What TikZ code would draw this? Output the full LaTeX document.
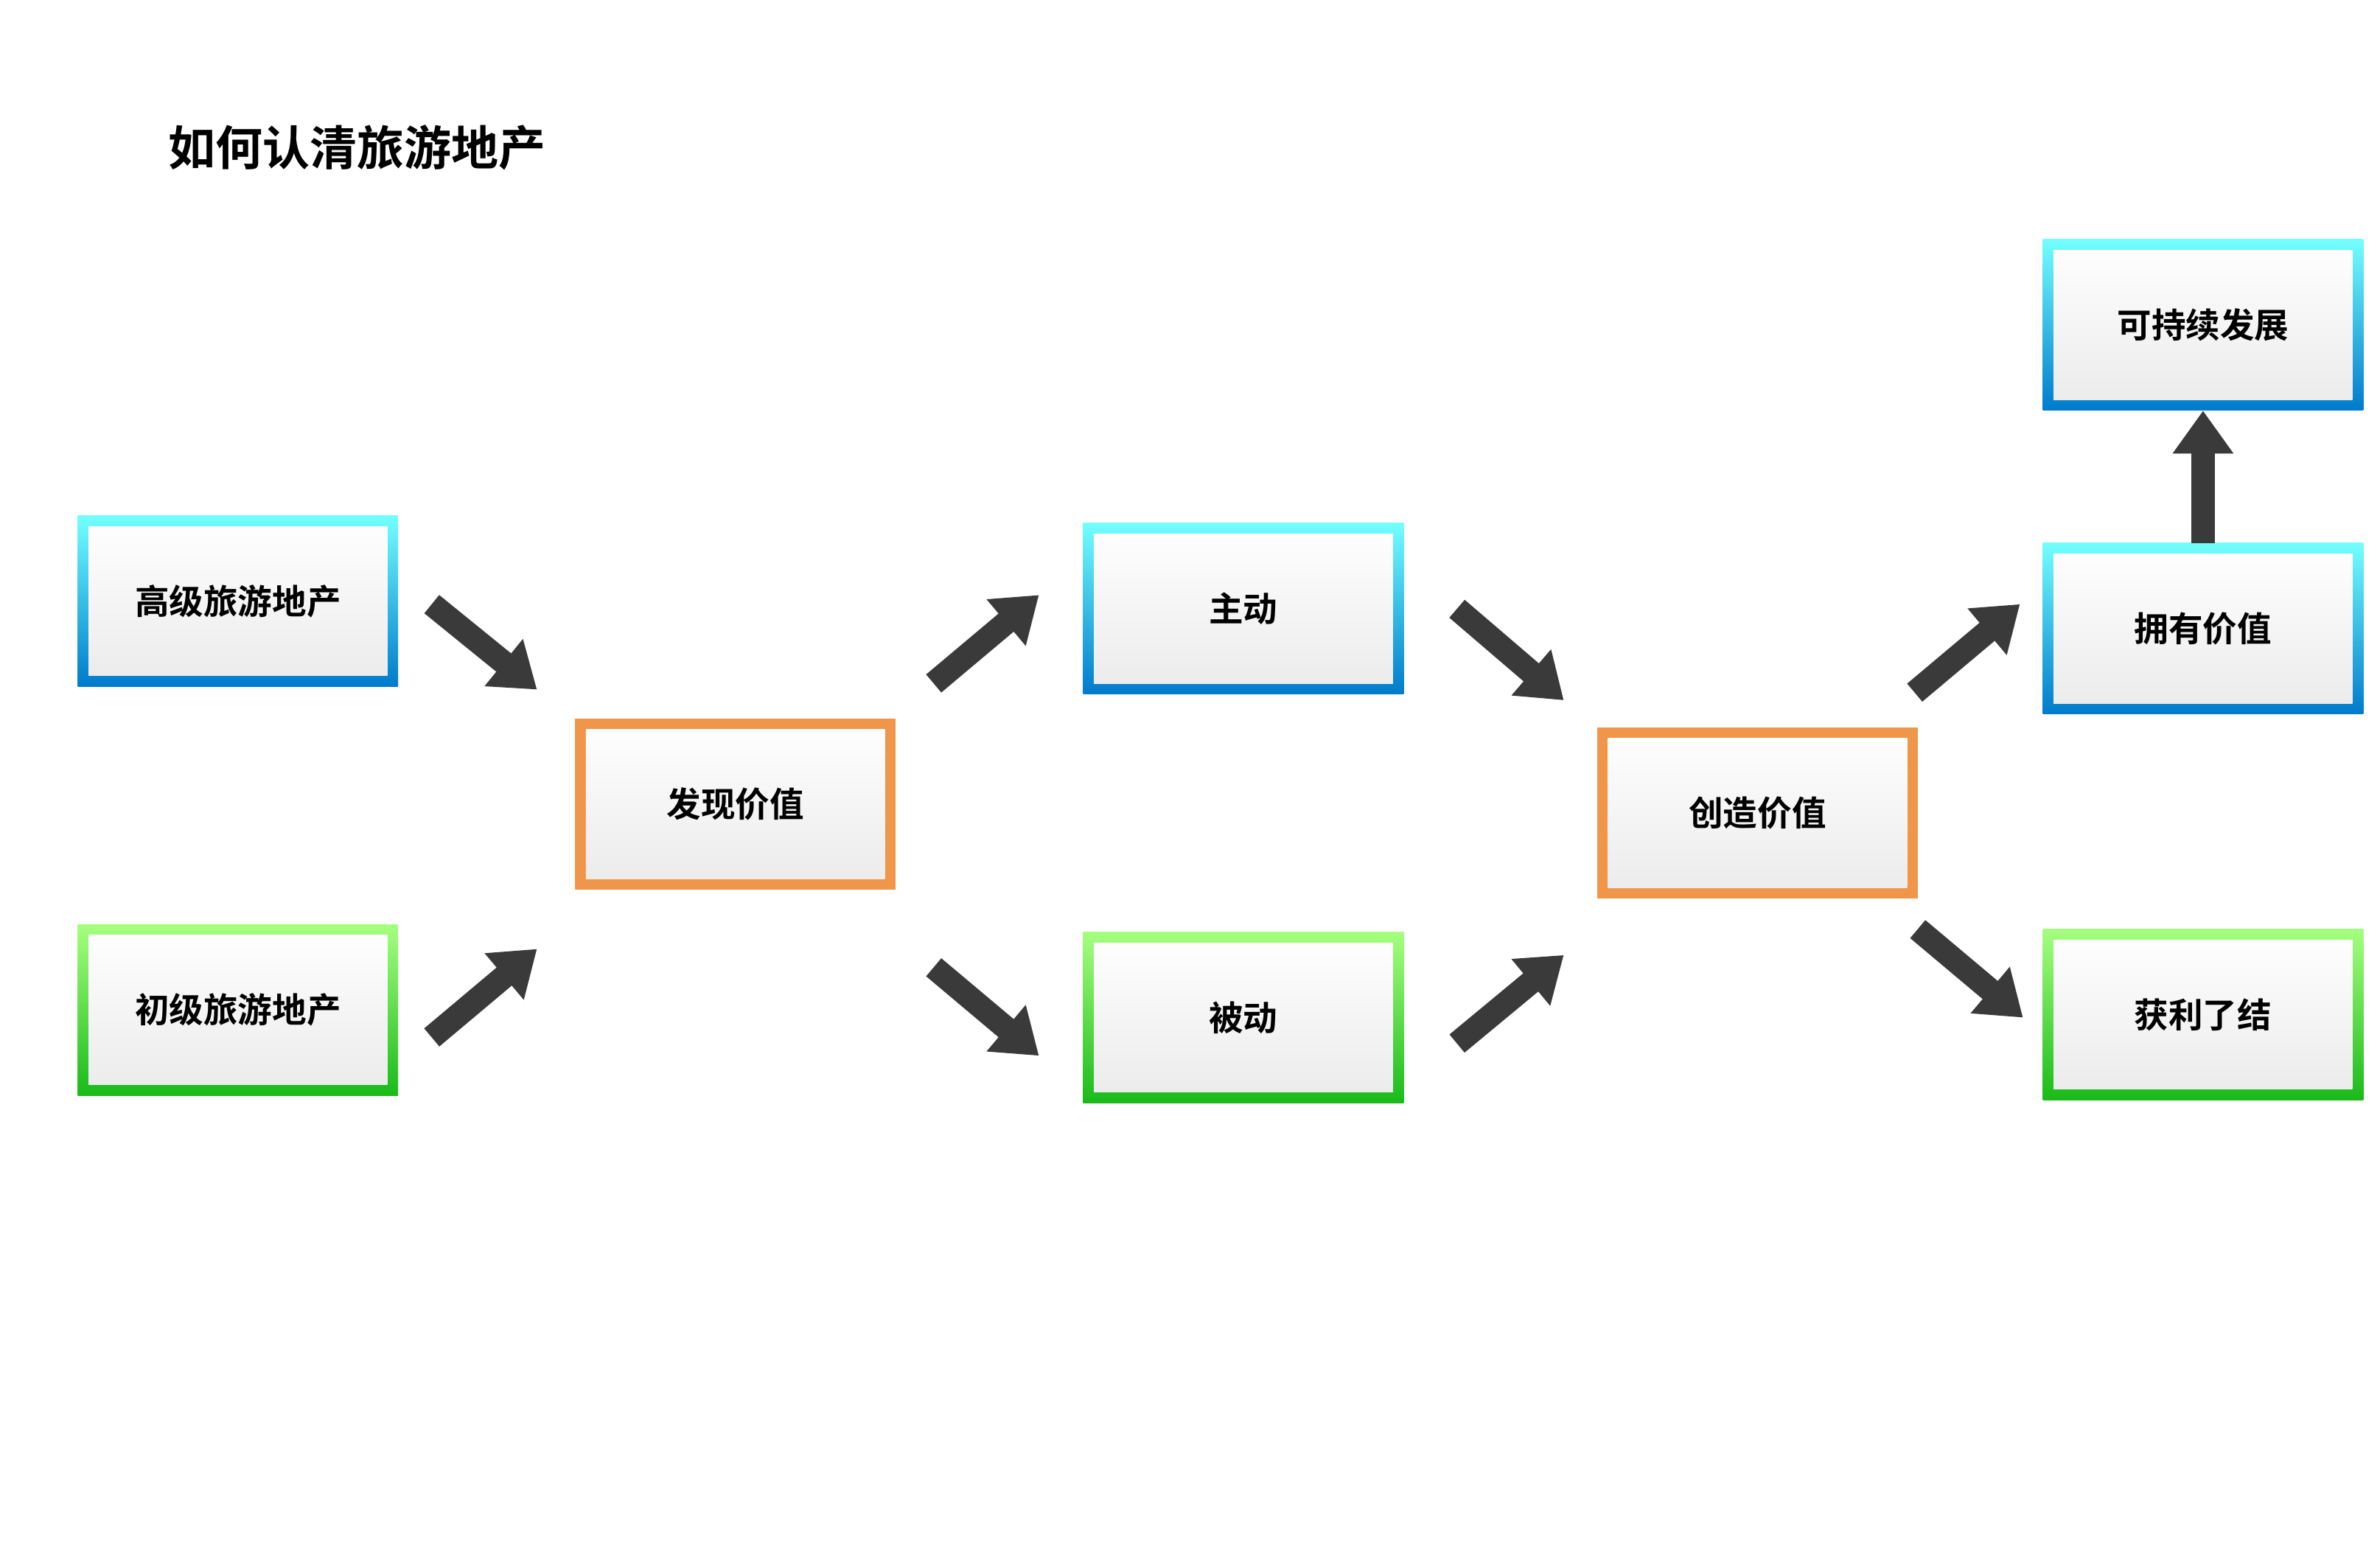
\documentclass[tikz,border=0pt]{standalone}
\usepackage{fontspec}
\setmainfont{Noto Sans CJK SC Bold}
\usetikzlibrary{arrows.meta}
\definecolor{arrg}{HTML}{3A3A3A}
\tikzset{x=0.05cm,y=-0.05cm,
 box/.style={minimum width=210*0.05cm,minimum height=112*0.05cm,inner sep=0pt,font=\fontsize{32}{36}\selectfont,
  path picture={\shade[top color=white,bottom color=black!8]
   ([shift={(10pt,10pt)}]path picture bounding box.south west) rectangle ([shift={(-10pt,-10pt)}]path picture bounding box.north east);}},
 bluebox/.style={box,top color=cyan!55,bottom color=blue!40!cyan!80!black},
 greenbox/.style={box,top color=green!60!lime!50,bottom color=green!70!black!90},
 orangebox/.style={box,fill={rgb,255:red,240;green,150;blue,74}},
 bigarrow/.style={line width=22pt,arrg,-{Triangle[length=40pt,width=54pt]},shorten >=0pt}}
\begin{document}
\begin{tikzpicture}
\useasboundingbox[fill=white] (0,0) rectangle (1560,1027);
\node[anchor=west,font=\fontsize{44}{48}\selectfont] (title) at (108,97) {如何认清旅游地产};
\node[bluebox] (gj) at (156,394) {高级旅游地产};
\node[greenbox] (cj) at (156,662) {初级旅游地产};
\node[orangebox] (fx) at (482,527) {发现价值};
\node[bluebox] (zd) at (815,399) {主动};
\node[greenbox] (bd) at (815,667) {被动};
\node[orangebox] (cz) at (1152,533) {创造价值};
\node[bluebox] (yy) at (1444,412) {拥有价值};
\node[bluebox] (kc) at (1444,213) {可持续发展};
\node[greenbox] (hl) at (1444,665) {获利了结};
\coordinate (a1) at (283,396); \coordinate (b1) at (352,452);
\coordinate (a2) at (283,680); \coordinate (b2) at (352,622);
\coordinate (a3) at (612,448); \coordinate (b3) at (681,390);
\coordinate (a4) at (612,634); \coordinate (b4) at (681,692);
\coordinate (a5) at (955,399); \coordinate (b5) at (1025,459);
\coordinate (a6) at (955,684); \coordinate (b6) at (1025,626);
\coordinate (a7) at (1255,454); \coordinate (b7) at (1324,396);
\coordinate (a8) at (1257,609); \coordinate (b8) at (1326,667);
\draw[bigarrow] (a1) -- (b1);
\draw[bigarrow] (a2) -- (b2);
\draw[bigarrow] (a3) -- (b3);
\draw[bigarrow] (a4) -- (b4);
\draw[bigarrow] (a5) -- (b5);
\draw[bigarrow] (a6) -- (b6);
\draw[bigarrow] (a7) -- (b7);
\draw[bigarrow] (a8) -- (b8);
\draw[bigarrow] (yy.north) -- (kc.south);
\end{tikzpicture}
\end{document}
